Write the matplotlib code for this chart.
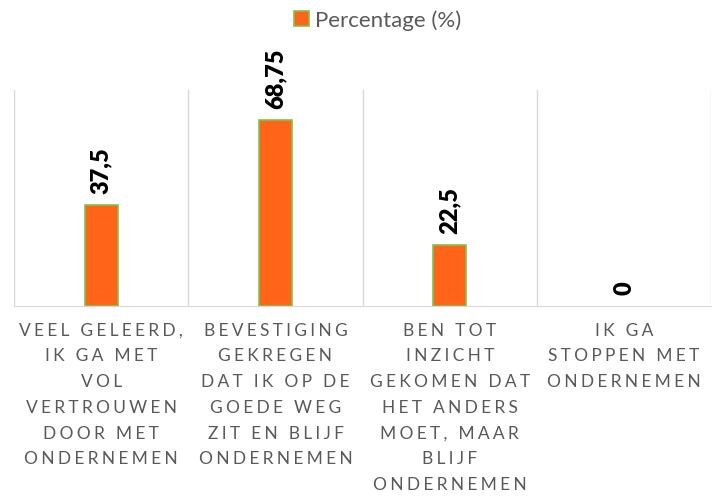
import matplotlib.pyplot as plt
import numpy as np

plt.rcParams['font.family'] = ['Lato', 'DejaVu Sans']

# categories (wrapped as in the chart) and values
categories = [
    "VEEL GELEERD,\nIK GA MET\nVOL\nVERTROUWEN\nDOOR MET\nONDERNEMEN",
    "BEVESTIGING\nGEKREGEN\nDAT IK OP DE\nGOEDE WEG\nZIT EN BLIJF\nONDERNEMEN",
    "BEN TOT\nINZICHT\nGEKOMEN DAT\nHET ANDERS\nMOET, MAAR\nBLIJF\nONDERNEMEN",
    "IK GA\nSTOPPEN MET\nONDERNEMEN",
]
values = [37.5, 68.75, 22.5, 0]
value_labels = ["37,5", "68,75", "22,5", "0"]
series_name = "Percentage (%)"


def spaced(s):
    # letter spacing like the original axis labels
    return "\n".join("\u2009\u200a".join(line) for line in s.split("\n"))


fig = plt.figure(figsize=(7.13, 5.0), dpi=100)
ax = fig.add_axes([0.0196, 0.388, 0.978, 0.432])

x = np.arange(len(values))
bars = ax.bar(x, values, width=0.19, color='#FF6418', edgecolor='#7FC34A',
              linewidth=1.2, label=series_name, zorder=3)
for b, v in zip(bars, values):
    if v == 0:
        b.set_linewidth(0)

ax.set_xlim(-0.5, len(values) - 0.5)
ax.set_ylim(0, 80)
ax.set_yticks([])
for b in np.arange(-0.5, len(values), 1.0):
    ax.axvline(b, color='#d9d9d9', linewidth=1, zorder=1)
for s in ['top', 'left', 'right']:
    ax.spines[s].set_visible(False)
ax.spines['bottom'].set_color('#d9d9d9')

ax.set_xticks(x)
ax.set_xticklabels([spaced(c) for c in categories], fontsize=12.5,
                   color='#595959', linespacing=1.75, va='top')
ax.tick_params(axis='x', length=0, pad=12)

for xi, v, lab in zip(x, values, value_labels):
    ax.annotate(lab, (xi, v), xytext=(0, 8), textcoords='offset points',
                rotation=90, ha='center', va='bottom', fontsize=17,
                fontweight='heavy', color='#000000')

fig.legend(loc='upper center', bbox_to_anchor=(0.53, 1.02), frameon=False,
           fontsize=16, handlelength=0.65, handleheight=0.65, handletextpad=0.3,
           labelcolor='#595959')

fig.savefig('out.png', dpi=100)
